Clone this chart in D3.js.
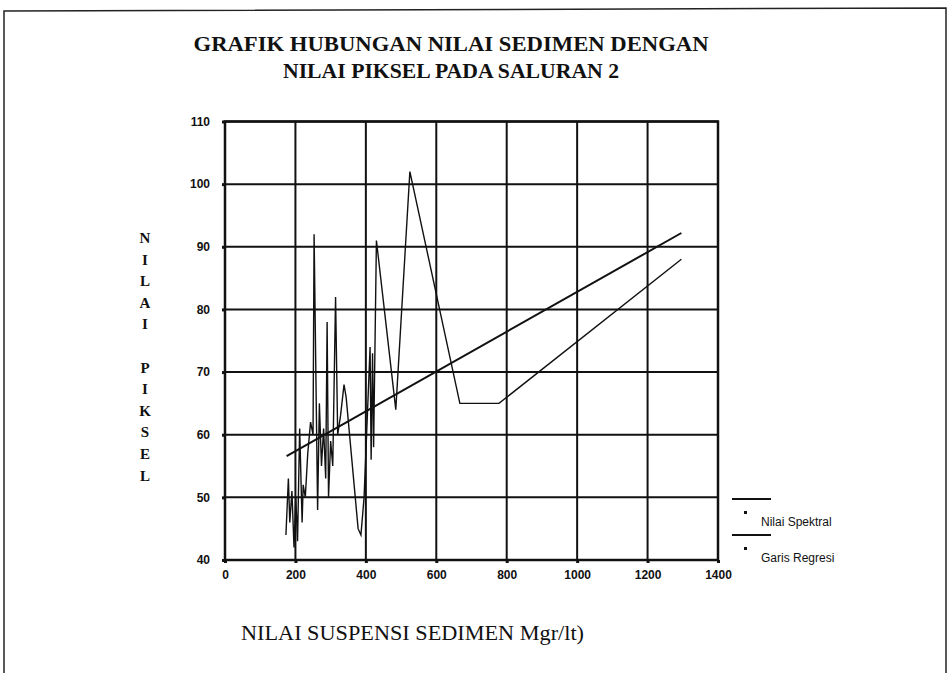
<!DOCTYPE html>
<html>
<head>
<meta charset="utf-8">
<script src="https://cdn.jsdelivr.net/npm/d3@7"></script>
<style>
	html, body { margin: 0; padding: 0; background: #fff; }
	svg { display: block; }
	.tick text { font-family: "Liberation Sans", Arial, sans-serif; font-weight: bold; font-size: 12px; fill: #111; }
	.domain { display: none; }
</style>
</head>
<body>
<div class="js-graph"></div>
<script>
var titleLines = ['GRAFIK HUBUNGAN NILAI SEDIMEN DENGAN', 'NILAI PIKSEL PADA SALURAN 2'];
var xTitle = 'NILAI SUSPENSI SEDIMEN Mgr/lt)';
var yTitle = ['N', 'I', 'L', 'A', 'I', '', 'P', 'I', 'K', 'S', 'E', 'L'];
var xTicks = [0, 200, 400, 600, 800, 1000, 1200, 1400];
var yTicks = [40, 50, 60, 70, 80, 90, 100, 110];
var seriesNames = ['Nilai Spektral', 'Garis Regresi'];

// nilai suspensi sedimen (mgr/lt) vs nilai piksel
var spektralX = [173, 180, 184, 190, 196, 201, 206, 212, 219, 222, 228, 235, 243, 250, 253, 263, 268, 274, 280, 286, 290, 294, 300, 306, 314, 320, 328, 338, 344, 378, 386, 395, 412, 415, 419, 422, 430, 485, 525, 667, 778, 1296];
var spektralY = [44, 53, 46, 51, 42, 50, 43, 61, 46, 52, 50, 57, 62, 60, 92, 48, 65, 55, 61, 53, 78, 50, 59, 55, 82, 60, 63, 68, 66, 45, 44, 50, 74, 56, 73, 58, 91, 64, 102, 65, 65, 88];
var regresiX = [175, 1296];
var regresiY = [56.6, 92.2];

(function(d3) {
	var w = 950, h = 673;
	var svg = d3.select('.js-graph').append('svg').attr('width', w).attr('height', h);

	// page frame (scanned sheet border)
	svg.append('path')
		.attr('d', 'M4,700 L4,11 L946,8 L946,700')
		.attr('fill', 'none')
		.attr('stroke', '#222')
		.attr('stroke-width', 1.5);

	var x = d3.scaleLinear().domain([0, 1400]).range([225, 718]);
	var y = d3.scaleLinear().domain([40, 110]).range([560, 121.5]);

	var title = svg.append('g')
		.attr('font-family', '"Liberation Serif", "Times New Roman", serif')
		.attr('font-weight', 'bold')
		.attr('font-size', '22px')
		.attr('fill', '#111')
		.attr('text-anchor', 'middle');
	title.append('text').attr('x', 451).attr('y', 51).attr('textLength', 515).attr('lengthAdjust', 'spacingAndGlyphs').text(titleLines[0]);
	title.append('text').attr('x', 451).attr('y', 78).attr('textLength', 336).attr('lengthAdjust', 'spacingAndGlyphs').text(titleLines[1]);

	// grid
	svg.append('g').selectAll('line')
		.data(yTicks)
		.enter()
		.append('line')
		.attr('x1', x(0)).attr('x2', x(1400))
		.attr('y1', function(d) { return y(d); })
		.attr('y2', function(d) { return y(d); })
		.attr('stroke', '#111')
		.attr('stroke-width', 2);
	svg.append('g').selectAll('line')
		.data(xTicks)
		.enter()
		.append('line')
		.attr('y1', y(40)).attr('y2', y(110))
		.attr('x1', function(d) { return x(d); })
		.attr('x2', function(d) { return x(d); })
		.attr('stroke', '#111')
		.attr('stroke-width', 2);
	svg.append('rect')
		.attr('x', x(0)).attr('y', y(110))
		.attr('width', x(1400) - x(0)).attr('height', y(40) - y(110))
		.attr('fill', 'none').attr('stroke', '#111').attr('stroke-width', 2.5);

	// axes
	svg.append('g')
		.attr('transform', 'translate(0,' + y(40) + ')')
		.call(d3.axisBottom(x).tickValues(xTicks).tickFormat(d3.format('d')).tickSize(3).tickPadding(7))
		.selectAll('.tick line').attr('stroke', '#111').attr('stroke-width', 3);
	svg.append('g')
		.attr('transform', 'translate(' + x(0) + ',0)')
		.call(d3.axisLeft(y).tickValues(yTicks).tickFormat(d3.format('d')).tickSize(3).tickPadding(12))
		.selectAll('.tick line').attr('stroke', '#111').attr('stroke-width', 3);

	// data lines
	var spektral = spektralX.map(function(v, i) { return [v, spektralY[i]]; });
	var regresi = regresiX.map(function(v, i) { return [v, regresiY[i]]; });
	var line = d3.line()
		.x(function(d) { return x(d[0]); })
		.y(function(d) { return y(d[1]); });
	svg.append('path').datum(regresi)
		.attr('d', line).attr('fill', 'none').attr('stroke', '#111').attr('stroke-width', 2);
	svg.append('path').datum(spektral)
		.attr('d', line).attr('fill', 'none').attr('stroke', '#111').attr('stroke-width', 1.4)
		.attr('stroke-linejoin', 'miter');

	// axis titles
	svg.append('text')
		.attr('x', 241).attr('y', 640)
		.attr('font-family', '"Liberation Serif", "Times New Roman", serif')
		.attr('font-size', '21px')
		.attr('fill', '#111')
		.attr('textLength', 343).attr('lengthAdjust', 'spacingAndGlyphs')
		.text(xTitle);
	svg.append('g')
		.selectAll('text')
		.data(yTitle)
		.enter()
		.append('text')
		.attr('x', 145)
		.attr('y', function(d, i) { return 243 + i * 21.6; })
		.attr('text-anchor', 'middle')
		.attr('font-family', '"Liberation Serif", "Times New Roman", serif')
		.attr('font-weight', 'bold')
		.attr('font-size', '15px')
		.attr('fill', '#111')
		.text(function(d) { return d; });

	// legend
	var legend = svg.append('g').selectAll('g')
		.data(seriesNames)
		.enter()
		.append('g')
		.attr('transform', function(d, i) { return 'translate(732,' + (499 + i * 36) + ')'; });
	legend.append('line').attr('x1', 0).attr('x2', 39).attr('y1', 0).attr('y2', 0)
		.attr('stroke', '#111').attr('stroke-width', 1.8);
	legend.append('rect').attr('x', 12).attr('y', 12).attr('width', 3).attr('height', 3).attr('fill', '#111');
	legend.append('text')
		.attr('x', 29).attr('y', 27)
		.attr('font-family', '"Liberation Sans", Arial, sans-serif')
		.attr('font-size', '12px')
		.attr('fill', '#111')
		.text(function(d) { return d; });
})(d3);
</script>
</body>
</html>
